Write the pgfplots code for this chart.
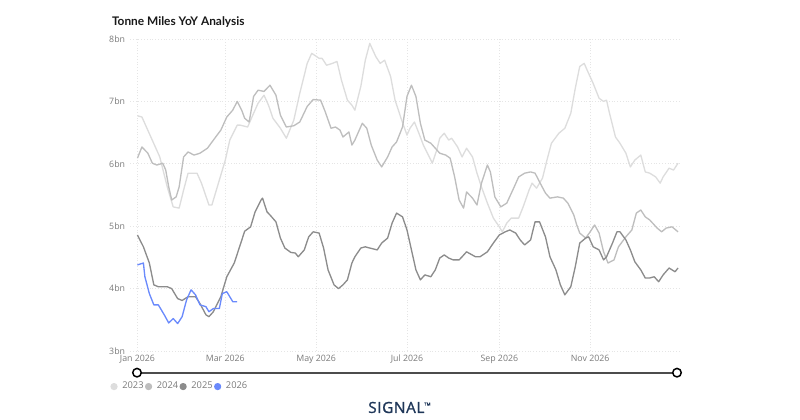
\documentclass[border=0pt]{standalone}
\usepackage{pgfplots}
\pgfplotsset{compat=1.18}
\usepackage{fontspec}
\setmainfont{Open Sans}
\newfontfamily\titlefont{Lato}
\newfontfamily\logofont[LetterSpace=4, FakeBold=1.2]{Open Sans}

\definecolor{c23}{HTML}{DDDDDD}
\definecolor{c24}{HTML}{BEBEBE}
\definecolor{c25}{HTML}{8C8C8C}
\definecolor{c26}{HTML}{6A8AFC}
\definecolor{lbl}{HTML}{7A7A7A}
\definecolor{navy}{HTML}{1E3658}

\begin{document}
\begin{tikzpicture}
\path[use as bounding box] (0,0) rectangle (600pt,-314.25pt);
\node[anchor=west, inner sep=0pt, font=\titlefont\bfseries\fontsize{8.9}{10}\selectfont, text=black!90]
  at (83.8pt,-16.5pt) {Tonne Miles YoY Analysis};

\begin{axis}[
  scale only axis, width=413.25pt, height=234pt,
  at={(97.5pt,-263.25pt)}, anchor=south west,
  xmin=-5, xmax=365, ymin=3, ymax=8,
  axis line style={draw=none}, tick style={draw=none},
  xtick={0,59,120,181,243,304},
  xticklabels={Jan 2026,Mar 2026,May 2026,Jul 2026,Sep 2026,Nov 2026},
  ytick={3,4,5,6,7,8},
  yticklabels={3bn,4bn,5bn,6bn,7bn,8bn},
  xticklabel style={anchor=north, inner sep=0pt, yshift=-3pt, font=\fontsize{6.6}{7}\selectfont, text=lbl},
  yticklabel style={anchor=east, inner sep=0pt, xshift=-3.5pt, font=\fontsize{6.6}{7}\selectfont, text=lbl},
  grid=major,
  major grid style={color=black!10, dash pattern=on 0.7pt off 1.4pt, line width=0.6pt},
  legend columns=-1,
  legend image code/.code={\fill[#1] (0pt,0pt) circle (2.2pt);},
  legend style={at={(axis description cs:-0.036,-0.114)}, anchor=west, draw=none, fill=none,
    inner sep=0pt, font=\fontsize{7}{8}\selectfont, text=lbl,
    nodes={inner xsep=1pt, inner ysep=0pt},
    /tikz/every odd column/.append style={column sep=2.5pt}},
  every axis plot/.append style={line width=1pt, line join=round},
]
\addplot[c23] table {
0 6.77
3 6.75
9 6.43
15 6.11
20 5.63
24 5.31
28 5.29
31 5.58
34 5.85
40 5.85
43 5.69
48 5.34
50 5.34
55 5.74
59 6.06
62 6.38
67 6.62
69 6.62
74 6.59
78 6.81
81 6.97
85 7.10
88 6.94
91 6.73
96 6.57
100 6.41
105 6.70
109 7.13
114 7.61
117 7.77
119 7.74
122 7.69
124 7.69
127 7.58
131 7.61
134 7.64
137 7.34
141 7.02
144 6.94
146 6.86
150 7.24
153 7.66
156 7.93
160 7.72
163 7.61
166 7.66
170 7.40
173 7.02
177 6.73
181 6.46
183 6.57
186 6.67
189 6.49
192 6.30
196 6.11
198 6.01
201 6.22
203 6.41
206 6.49
209 6.38
211 6.41
215 6.27
218 6.11
221 6.25
225 6.11
228 5.85
231 5.63
235 5.37
239 5.13
243 4.99
245 4.91
248 5.05
251 5.13
256 5.13
259 5.31
263 5.58
265 5.69
268 5.61
272 5.77
275 6.06
278 6.33
283 6.49
287 6.57
291 6.81
294 7.21
297 7.56
300 7.61
302 7.50
306 7.29
310 7.05
313 7.00
315 7.02
317 6.81
321 6.43
324 6.33
328 6.17
331 5.95
334 6.06
338 6.14
341 5.87
344 5.85
348 5.79
351 5.69
353 5.79
357 5.93
360 5.90
363 6.01
};
\addlegendentry{2023}
\addplot[c24] table {
0 6.09
3 6.27
7 6.17
10 6.01
13 5.98
17 6.01
19 5.90
21 5.63
23 5.42
26 5.47
28 5.63
31 6.11
34 6.19
38 6.14
42 6.17
47 6.25
51 6.38
56 6.54
60 6.75
64 6.86
67 7.00
70 6.86
72 6.73
75 6.67
78 7.08
81 7.18
85 7.16
89 7.26
93 7.10
96 6.78
100 6.59
105 6.61
109 6.67
114 6.92
118 7.03
123 7.02
126 6.84
130 6.57
133 6.59
136 6.54
138 6.43
142 6.51
144 6.30
146 6.38
151 6.65
154 6.57
157 6.30
161 6.06
164 5.95
168 6.11
171 6.27
174 6.35
178 6.59
181 7.08
184 7.26
187 7.08
190 6.65
193 6.38
197 6.33
200 6.25
203 6.17
207 6.14
210 6.09
213 5.79
216 5.42
219 5.29
221 5.55
225 5.45
228 5.34
231 5.69
235 5.98
237 5.87
240 5.47
244 5.31
248 5.37
253 5.63
256 5.79
260 5.85
264 5.87
267 5.85
270 5.71
274 5.53
277 5.45
282 5.47
286 5.45
289 5.37
293 5.18
295 5.02
297 4.89
301 4.81
304 4.91
307 5.02
310 4.89
313 4.59
316 4.41
320 4.46
323 4.67
328 4.83
332 4.94
335 5.21
338 5.26
341 5.15
344 5.10
349 4.97
352 4.91
355 4.97
359 4.99
363 4.91
};
\addlegendentry{2024}
\addplot[c25] table {
0 4.86
4 4.67
8 4.41
11 4.06
14 4.03
20 4.03
23 4.00
27 3.84
30 3.81
34 3.87
39 3.87
42 3.76
46 3.58
48 3.55
51 3.63
56 3.87
60 4.19
65 4.41
69 4.70
72 4.92
76 4.99
79 5.23
83 5.42
84 5.45
87 5.23
89 5.18
93 5.07
96 4.81
99 4.65
103 4.58
106 4.57
108 4.51
112 4.62
115 4.83
118 4.91
122 4.89
125 4.65
128 4.30
132 4.06
135 4.00
138 4.06
141 4.14
144 4.41
146 4.51
150 4.65
153 4.67
156 4.65
161 4.62
164 4.73
168 4.81
171 5.05
174 5.21
178 5.15
181 4.94
184 4.62
187 4.30
190 4.14
193 4.22
197 4.19
200 4.30
203 4.49
206 4.54
209 4.49
212 4.46
216 4.46
218 4.51
221 4.59
227 4.51
230 4.51
235 4.59
239 4.73
243 4.86
247 4.91
250 4.94
254 4.89
257 4.78
260 4.70
264 4.78
267 5.07
270 5.07
274 4.83
277 4.51
281 4.30
284 4.06
287 3.90
291 4.03
294 4.35
297 4.73
301 4.81
303 4.83
306 4.67
310 4.62
313 4.46
315 4.51
319 4.73
322 4.91
324 4.91
328 4.78
331 4.62
334 4.43
338 4.30
341 4.17
344 4.17
347 4.19
350 4.11
353 4.22
357 4.33
359 4.30
361 4.27
363 4.33
};
\addlegendentry{2025}
\addplot[c26] table {
0 4.38
4 4.41
5 4.19
8 3.92
11 3.74
14 3.74
18 3.58
21 3.45
24 3.52
27 3.44
30 3.55
33 3.82
36 3.98
39 3.90
42 3.74
46 3.71
48 3.63
51 3.68
55 3.68
57 3.92
60 3.95
64 3.79
67 3.79
};
\addlegendentry{2026}
\end{axis}

% range slider under the plot
\draw[line width=1.6pt, color=black!70] (102.75pt,-279.5pt) -- (507.75pt,-279.5pt);
\draw[line width=1.1pt, fill=white] (102.75pt,-279.5pt) circle (3.2pt);
\draw[line width=1.1pt, fill=white] (507.75pt,-279.5pt) circle (3.2pt);

\node[inner sep=0pt, text=navy, font=\logofont\fontsize{11.5}{12}\selectfont]
  at (299.5pt,-305.6pt) {SIGNAL\raisebox{0.9ex}{\fontsize{3}{3}\selectfont TM}};
\end{tikzpicture}
\end{document}
